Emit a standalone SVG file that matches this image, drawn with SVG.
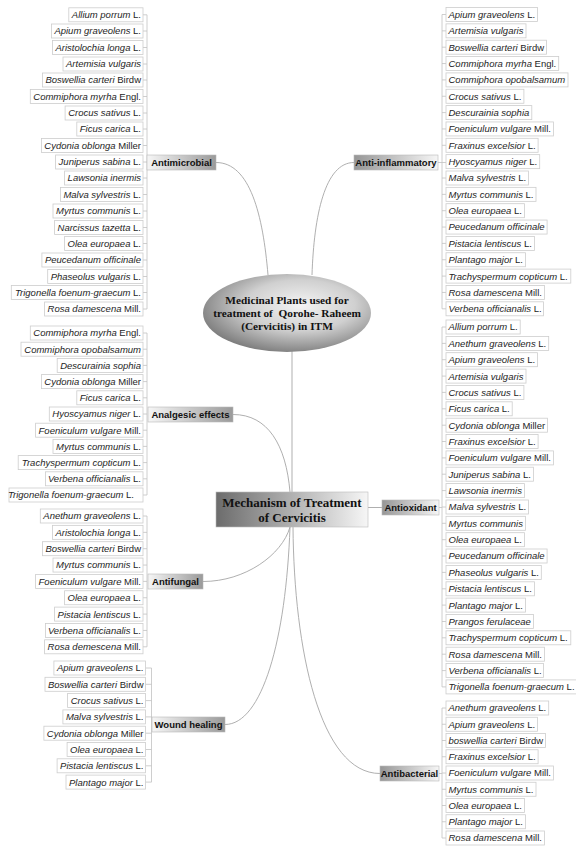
<svg xmlns="http://www.w3.org/2000/svg" width="576" height="847" viewBox="0 0 576 847">
<defs>
<linearGradient id="gL" x1="0" y1="0" x2="1" y2="0"><stop offset="0" stop-color="#f6f6f6"/><stop offset="1" stop-color="#9a9a9a"/></linearGradient>
<linearGradient id="gR" x1="0" y1="0" x2="1" y2="0"><stop offset="0" stop-color="#969696"/><stop offset="1" stop-color="#f6f6f6"/></linearGradient>
<linearGradient id="gC" x1="0" y1="0" x2="1" y2="0"><stop offset="0" stop-color="#6c6c6c"/><stop offset="1" stop-color="#f6f6f6"/></linearGradient>
<radialGradient id="gE" cx="0.58" cy="0.4" r="0.65"><stop offset="0" stop-color="#f4f4f4"/><stop offset="0.5" stop-color="#d0d0d0"/><stop offset="1" stop-color="#777"/></radialGradient>
<style>
.it rect{fill:#fff;stroke:#cdcdcd;stroke-width:0.8}
.it text{font-family:"Liberation Sans",Arial,sans-serif;font-size:9.5px;fill:#1e1e1e}
.L text{text-anchor:end}
.i{font-style:italic}
.node rect{stroke:#b8b8b8;stroke-width:0.6}
.node text{font-family:"Liberation Sans",Arial,sans-serif;font-size:9.5px;font-weight:bold;fill:#111;text-anchor:middle}
.ln{fill:none;stroke:#a6a6a6;stroke-width:0.9}
.br{fill:none;stroke:#c2c2c2;stroke-width:0.8}
.ser{font-family:"Liberation Serif","Times New Roman",serif;font-weight:bold;fill:#111;text-anchor:middle}
</style>
</defs>

<g id="connectors">
<path class="ln" d="M216,162.5 C250,162.5 263,215 268,275"/>
<path class="ln" d="M354,162.5 C325,162.5 314,215 312,275"/>
<path class="ln" d="M292,351 L292,492"/>
<path class="ln" d="M233,414.5 C268,414.5 286,445 290,492"/>
<path class="ln" d="M368,507.5 L382,507.5"/>
<path class="ln" d="M290,527 C282,555 245,581.5 203,581.5"/>
<path class="ln" d="M290,527 C286,640 262,724.5 225,724.5"/>
<path class="ln" d="M293,527 C294,650 320,773.5 380,773.5"/>
<path class="br" d="M147,14.8 V309 M143,14.8 H147 M143,31 H147 M143,47.5 H147 M143,64 H147 M143,80 H147 M143,96.5 H147 M143,113 H147 M143,129 H147 M143,145.5 H147 M143,162 H147 M143,178 H147 M143,194.5 H147 M143,211 H147 M143,227.5 H147 M143,243.5 H147 M143,260 H147 M143,276.5 H147 M143,292.5 H147 M143,309 H147"/>
<path class="br" d="M442,14.5 V308.8 M438,162.5 H446 M442,14.5 H446 M442,30.85 H446 M442,47.2 H446 M442,63.55 H446 M442,79.9 H446 M442,96.25 H446 M442,112.6 H446 M442,128.95 H446 M442,145.3 H446 M442,178 H446 M442,194.35 H446 M442,210.7 H446 M442,227.05 H446 M442,243.4 H446 M442,259.75 H446 M442,276.1 H446 M442,292.45 H446 M442,308.8 H446"/>
<path class="br" d="M147,333 V495 M143,333 H147 M143,349.2 H147 M143,365.4 H147 M143,381.6 H147 M143,397.8 H147 M143,414 H147 M143,430.2 H147 M143,446.4 H147 M143,462.6 H147 M143,478.8 H147 M143,495 H147"/>
<path class="br" d="M147,516 V646.8 M143,516 H147 M143,532.35 H147 M143,548.7 H147 M143,565.05 H147 M143,581.4 H147 M143,597.75 H147 M143,614.1 H147 M143,630.45 H147 M143,646.8 H147"/>
<path class="br" d="M151.5,668 V782.1 M145.5,668 H151.5 M145.5,684.3 H151.5 M145.5,700.6 H151.5 M145.5,716.9 H151.5 M145.5,733.2 H151.5 M145.5,749.5 H151.5 M145.5,765.8 H151.5 M145.5,782.1 H151.5"/>
<path class="br" d="M442,327 V686.9 M439,507.5 H442 M442,327 H446 M442,343.4 H446 M442,359.7 H446 M442,376.1 H446 M442,392.4 H446 M442,408.8 H446 M442,425.2 H446 M442,441.5 H446 M442,457.9 H446 M442,474.2 H446 M442,490.6 H446 M442,507 H446 M442,523.3 H446 M442,539.7 H446 M442,556 H446 M442,572.4 H446 M442,588.8 H446 M442,605.1 H446 M442,621.5 H446 M442,637.8 H446 M442,654.2 H446 M442,670.6 H446 M442,686.9 H446"/>
<path class="br" d="M442,708 V838 M439,773.5 H442 M442,708 H446 M442,724.25 H446 M442,740.5 H446 M442,756.75 H446 M442,773 H446 M442,789.25 H446 M442,805.5 H446 M442,821.75 H446 M442,838 H446"/>
</g>

<g id="root">
<ellipse cx="287" cy="313" rx="84" ry="39" fill="url(#gE)"/>
<text class="ser" font-size="11.3" x="287" y="304">Medicinal Plants used for</text>
<text class="ser" font-size="11.3" x="287" y="317" xml:space="preserve">treatment of  Qorohe- Raheem</text>
<text class="ser" font-size="11.3" x="287" y="330">(Cervicitis) in ITM</text>
</g>

<g id="mechanism">
<rect x="216" y="492" width="152" height="35" fill="url(#gC)" stroke="#bbb" stroke-width="0.6"/>
<text class="ser" font-size="13" x="292" y="507">Mechanism of Treatment</text>
<text class="ser" font-size="13" x="292" y="522">of Cervicitis</text>
</g>

<g id="antimicrobial" class="node"><rect x="147" y="155" width="69" height="15" fill="url(#gL)"/><text x="181.5" y="166">Antimicrobial</text></g>
<g id="anti-inflammatory" class="node"><rect x="354" y="155" width="84" height="15" fill="url(#gR)"/><text x="396" y="166">Anti-inflammatory</text></g>
<g id="analgesic" class="node"><rect x="148" y="407" width="85" height="15" fill="url(#gL)"/><text x="190.5" y="418">Analgesic effects</text></g>
<g id="antioxidant" class="node"><rect x="382" y="500" width="57" height="15" fill="url(#gR)"/><text x="410.5" y="511">Antioxidant</text></g>
<g id="antifungal" class="node"><rect x="148" y="574" width="55" height="15" fill="url(#gL)"/><text x="175.5" y="585">Antifungal</text></g>
<g id="wound-healing" class="node"><rect x="152" y="717" width="73" height="15" fill="url(#gL)"/><text x="188.5" y="728">Wound healing</text></g>
<g id="antibacterial" class="node"><rect x="380" y="766" width="59" height="15" fill="url(#gR)"/><text x="409.5" y="777">Antibacterial</text></g>

<g id="list-antimicrobial" class="it L">
<rect x="68.8" y="7.8" width="74.2" height="14"/><text x="141" y="18.2"><tspan class="i">Allium porrum</tspan> L.</text>
<rect x="51.4" y="24" width="91.6" height="14"/><text x="141" y="34.4"><tspan class="i">Apium graveolens</tspan> L.</text>
<rect x="52.5" y="40.5" width="90.5" height="14"/><text x="141" y="50.9"><tspan class="i">Aristolochia longa</tspan> L.</text>
<rect x="63" y="57" width="80" height="14"/><text x="141" y="67.4"><tspan class="i">Artemisia vulgaris</tspan></text>
<rect x="42.5" y="73" width="100.5" height="14"/><text x="141" y="83.4"><tspan class="i">Boswellia carteri</tspan> Birdw</text>
<rect x="30.3" y="89.5" width="112.7" height="14"/><text x="141" y="99.9"><tspan class="i">Commiphora myrha</tspan> Engl.</text>
<rect x="65.1" y="106" width="77.9" height="14"/><text x="141" y="116.4"><tspan class="i">Crocus sativus</tspan> L.</text>
<rect x="76.8" y="122" width="66.2" height="14"/><text x="141" y="132.4"><tspan class="i">Ficus carica</tspan> L.</text>
<rect x="41.4" y="138.5" width="101.6" height="14"/><text x="141" y="148.9"><tspan class="i">Cydonia oblonga</tspan> Miller</text>
<rect x="55.6" y="155" width="87.4" height="14"/><text x="141" y="165.4"><tspan class="i">Juniperus sabina</tspan> L.</text>
<rect x="64.6" y="171" width="78.4" height="14"/><text x="141" y="181.4"><tspan class="i">Lawsonia inermis</tspan></text>
<rect x="60.4" y="187.5" width="82.6" height="14"/><text x="141" y="197.9"><tspan class="i">Malva sylvestris</tspan> L.</text>
<rect x="53" y="204" width="90" height="14"/><text x="141" y="214.4"><tspan class="i">Myrtus communis</tspan> L.</text>
<rect x="54.6" y="220.5" width="88.4" height="14"/><text x="141" y="230.9"><tspan class="i">Narcissus tazetta</tspan> L.</text>
<rect x="64.6" y="236.5" width="78.4" height="14"/><text x="141" y="246.9"><tspan class="i">Olea europaea</tspan> L.</text>
<rect x="41.9" y="253" width="101.1" height="14"/><text x="141" y="263.4"><tspan class="i">Peucedanum officinale</tspan></text>
<rect x="47.7" y="269.5" width="95.3" height="14"/><text x="141" y="279.9"><tspan class="i">Phaseolus vulgaris</tspan> L.</text>
<rect x="11.3" y="285.5" width="131.7" height="14"/><text x="141" y="295.9"><tspan class="i">Trigonella foenum-graecum</tspan> L.</text>
<rect x="44.6" y="302" width="98.4" height="14"/><text x="141" y="312.4"><tspan class="i">Rosa damescena</tspan> Mill.</text>
</g>

<g id="list-anti-inflammatory" class="it">
<rect x="446" y="7.5" width="91.6" height="14"/><text x="448.5" y="17.9"><tspan class="i">Apium graveolens</tspan> L.</text>
<rect x="446" y="23.85" width="80" height="14"/><text x="448.5" y="34.25"><tspan class="i">Artemisia vulgaris</tspan></text>
<rect x="446" y="40.2" width="100.5" height="14"/><text x="448.5" y="50.6"><tspan class="i">Boswellia carteri</tspan> Birdw</text>
<rect x="446" y="56.55" width="112.7" height="14"/><text x="448.5" y="66.95"><tspan class="i">Commiphora myrha</tspan> Engl.</text>
<rect x="446" y="72.9" width="122" height="14"/><text x="448.5" y="83.3"><tspan class="i">Commiphora opobalsamum</tspan></text>
<rect x="446" y="89.25" width="77.9" height="14"/><text x="448.5" y="99.65"><tspan class="i">Crocus sativus</tspan> L.</text>
<rect x="446" y="105.6" width="85.8" height="14"/><text x="448.5" y="116"><tspan class="i">Descurainia sophia</tspan></text>
<rect x="446" y="121.95" width="107.4" height="14"/><text x="448.5" y="132.35"><tspan class="i">Foeniculum vulgare</tspan> Mill.</text>
<rect x="446" y="138.3" width="92.1" height="14"/><text x="448.5" y="148.7"><tspan class="i">Fraxinus excelsior</tspan> L.</text>
<rect x="446" y="154.65" width="93.7" height="14"/><text x="448.5" y="165.05"><tspan class="i">Hyoscyamus niger</tspan> L.</text>
<rect x="446" y="171" width="82.6" height="14"/><text x="448.5" y="181.4"><tspan class="i">Malva sylvestris</tspan> L.</text>
<rect x="446" y="187.35" width="90" height="14"/><text x="448.5" y="197.75"><tspan class="i">Myrtus communis</tspan> L.</text>
<rect x="446" y="203.7" width="78.4" height="14"/><text x="448.5" y="214.1"><tspan class="i">Olea europaea</tspan> L.</text>
<rect x="446" y="220.05" width="101.1" height="14"/><text x="448.5" y="230.45"><tspan class="i">Peucedanum officinale</tspan></text>
<rect x="446" y="236.4" width="88.4" height="14"/><text x="448.5" y="246.8"><tspan class="i">Pistacia lentiscus</tspan> L.</text>
<rect x="446" y="252.75" width="79.5" height="14"/><text x="448.5" y="263.15"><tspan class="i">Plantago major</tspan> L.</text>
<rect x="446" y="269.1" width="124.8" height="14"/><text x="448.5" y="279.5"><tspan class="i">Trachyspermum copticum</tspan> L.</text>
<rect x="446" y="285.45" width="98.4" height="14"/><text x="448.5" y="295.85"><tspan class="i">Rosa damescena</tspan> Mill.</text>
<rect x="446" y="301.8" width="97.5" height="14"/><text x="448.5" y="312.2"><tspan class="i">Verbena officianalis</tspan> L.</text>
</g>

<g id="list-analgesic" class="it L">
<rect x="30.3" y="326" width="112.7" height="14"/><text x="141" y="336.4"><tspan class="i">Commiphora myrha</tspan> Engl.</text>
<rect x="21" y="342.2" width="122" height="14"/><text x="141" y="352.6"><tspan class="i">Commiphora opobalsamum</tspan></text>
<rect x="57.2" y="358.4" width="85.8" height="14"/><text x="141" y="368.8"><tspan class="i">Descurainia sophia</tspan></text>
<rect x="41.4" y="374.6" width="101.6" height="14"/><text x="141" y="385"><tspan class="i">Cydonia oblonga</tspan> Miller</text>
<rect x="76.8" y="390.8" width="66.2" height="14"/><text x="141" y="401.2"><tspan class="i">Ficus carica</tspan> L.</text>
<rect x="49.3" y="407" width="93.7" height="14"/><text x="141" y="417.4"><tspan class="i">Hyoscyamus niger</tspan> L.</text>
<rect x="35.6" y="423.2" width="107.4" height="14"/><text x="141" y="433.6"><tspan class="i">Foeniculum vulgare</tspan> Mill.</text>
<rect x="53" y="439.4" width="90" height="14"/><text x="141" y="449.8"><tspan class="i">Myrtus communis</tspan> L.</text>
<rect x="18.2" y="455.6" width="124.8" height="14"/><text x="141" y="466"><tspan class="i">Trachyspermum copticum</tspan> L.</text>
<rect x="45.5" y="471.8" width="97.5" height="14"/><text x="141" y="482.2"><tspan class="i">Verbena officianalis</tspan> L.</text>
<rect x="9" y="488" width="134" height="14"/><text x="134" y="498.4"><tspan class="i">Trigonella foenum-graecum</tspan> L.</text>
</g>

<g id="list-antifungal" class="it L">
<rect x="40.3" y="509" width="102.7" height="14"/><text x="141" y="519.4"><tspan class="i">Anethum graveolens</tspan> L.</text>
<rect x="52.5" y="525.35" width="90.5" height="14"/><text x="141" y="535.75"><tspan class="i">Aristolochia longa</tspan> L.</text>
<rect x="42.5" y="541.7" width="100.5" height="14"/><text x="141" y="552.1"><tspan class="i">Boswellia carteri</tspan> Birdw</text>
<rect x="53" y="558.05" width="90" height="14"/><text x="141" y="568.45"><tspan class="i">Myrtus communis</tspan> L.</text>
<rect x="35.6" y="574.4" width="107.4" height="14"/><text x="141" y="584.8"><tspan class="i">Foeniculum vulgare</tspan> Mill.</text>
<rect x="64.6" y="590.75" width="78.4" height="14"/><text x="141" y="601.15"><tspan class="i">Olea europaea</tspan> L.</text>
<rect x="54.6" y="607.1" width="88.4" height="14"/><text x="141" y="617.5"><tspan class="i">Pistacia lentiscus</tspan> L.</text>
<rect x="45.5" y="623.45" width="97.5" height="14"/><text x="141" y="633.85"><tspan class="i">Verbena officianalis</tspan> L.</text>
<rect x="44.6" y="639.8" width="98.4" height="14"/><text x="141" y="650.2"><tspan class="i">Rosa demescena</tspan> Mill.</text>
</g>

<g id="list-wound-healing" class="it L">
<rect x="53.9" y="661" width="91.6" height="14"/><text x="143.5" y="671.4"><tspan class="i">Apium graveolens</tspan> L.</text>
<rect x="45" y="677.3" width="100.5" height="14"/><text x="143.5" y="687.7"><tspan class="i">Boswellia carteri</tspan> Birdw</text>
<rect x="67.6" y="693.6" width="77.9" height="14"/><text x="143.5" y="704"><tspan class="i">Crocus sativus</tspan> L.</text>
<rect x="62.9" y="709.9" width="82.6" height="14"/><text x="143.5" y="720.3"><tspan class="i">Malva sylvestris</tspan> L.</text>
<rect x="43.9" y="726.2" width="101.6" height="14"/><text x="143.5" y="736.6"><tspan class="i">Cydonia oblonga</tspan> Miller</text>
<rect x="67.1" y="742.5" width="78.4" height="14"/><text x="143.5" y="752.9"><tspan class="i">Olea europaea</tspan> L.</text>
<rect x="57.1" y="758.8" width="88.4" height="14"/><text x="143.5" y="769.2"><tspan class="i">Pistacia lentiscus</tspan> L.</text>
<rect x="66" y="775.1" width="79.5" height="14"/><text x="143.5" y="785.5"><tspan class="i">Plantago major</tspan> L.</text>
</g>

<g id="list-antioxidant" class="it">
<rect x="446" y="320" width="74.2" height="14"/><text x="448.5" y="330.4"><tspan class="i">Allium porrum</tspan> L.</text>
<rect x="446" y="336.4" width="102.7" height="14"/><text x="448.5" y="346.8"><tspan class="i">Anethum graveolens</tspan> L.</text>
<rect x="446" y="352.7" width="91.6" height="14"/><text x="448.5" y="363.1"><tspan class="i">Apium graveolens</tspan> L.</text>
<rect x="446" y="369.1" width="80" height="14"/><text x="448.5" y="379.5"><tspan class="i">Artemisia vulgaris</tspan></text>
<rect x="446" y="385.4" width="77.9" height="14"/><text x="448.5" y="395.8"><tspan class="i">Crocus sativus</tspan> L.</text>
<rect x="446" y="401.8" width="66.2" height="14"/><text x="448.5" y="412.2"><tspan class="i">Ficus carica</tspan> L.</text>
<rect x="446" y="418.2" width="101.6" height="14"/><text x="448.5" y="428.6"><tspan class="i">Cydonia oblonga</tspan> Miller</text>
<rect x="446" y="434.5" width="92.1" height="14"/><text x="448.5" y="444.9"><tspan class="i">Fraxinus excelsior</tspan> L.</text>
<rect x="446" y="450.9" width="107.4" height="14"/><text x="448.5" y="461.3"><tspan class="i">Foeniculum vulgare</tspan> Mill.</text>
<rect x="446" y="467.2" width="87.4" height="14"/><text x="448.5" y="477.6"><tspan class="i">Juniperus sabina</tspan> L.</text>
<rect x="446" y="483.6" width="78.4" height="14"/><text x="448.5" y="494"><tspan class="i">Lawsonia inermis</tspan></text>
<rect x="446" y="500" width="82.6" height="14"/><text x="448.5" y="510.4"><tspan class="i">Malva sylvestris</tspan> L.</text>
<rect x="446" y="516.3" width="79.4" height="14"/><text x="448.5" y="526.7"><tspan class="i">Myrtus communis</tspan></text>
<rect x="446" y="532.7" width="78.4" height="14"/><text x="448.5" y="543.1"><tspan class="i">Olea europaea</tspan> L.</text>
<rect x="446" y="549" width="101.1" height="14"/><text x="448.5" y="559.4"><tspan class="i">Peucedanum officinale</tspan></text>
<rect x="446" y="565.4" width="95.3" height="14"/><text x="448.5" y="575.8"><tspan class="i">Phaseolus vulgaris</tspan> L.</text>
<rect x="446" y="581.8" width="88.4" height="14"/><text x="448.5" y="592.2"><tspan class="i">Pistacia lentiscus</tspan> L.</text>
<rect x="446" y="598.1" width="79.5" height="14"/><text x="448.5" y="608.5"><tspan class="i">Plantago major</tspan> L.</text>
<rect x="446" y="614.5" width="87.4" height="14"/><text x="448.5" y="624.9"><tspan class="i">Prangos ferulaceae</tspan></text>
<rect x="446" y="630.8" width="124.8" height="14"/><text x="448.5" y="641.2"><tspan class="i">Trachyspermum copticum</tspan> L.</text>
<rect x="446" y="647.2" width="98.4" height="14"/><text x="448.5" y="657.6"><tspan class="i">Rosa damescena</tspan> Mill.</text>
<rect x="446" y="663.6" width="97.5" height="14"/><text x="448.5" y="674"><tspan class="i">Verbena officianalis</tspan> L.</text>
<rect x="446" y="679.9" width="131.7" height="14"/><text x="448.5" y="690.3"><tspan class="i">Trigonella foenum-graecum</tspan> L.</text>
</g>

<g id="list-antibacterial" class="it">
<rect x="446" y="701" width="102.7" height="14"/><text x="448.5" y="711.4"><tspan class="i">Anethum graveolens</tspan> L.</text>
<rect x="446" y="717.25" width="91.6" height="14"/><text x="448.5" y="727.65"><tspan class="i">Apium graveolens</tspan> L.</text>
<rect x="446" y="733.5" width="99.5" height="14"/><text x="448.5" y="743.9"><tspan class="i">boswellia carteri</tspan> Birdw</text>
<rect x="446" y="749.75" width="92.1" height="14"/><text x="448.5" y="760.15"><tspan class="i">Fraxinus excelsior</tspan> L.</text>
<rect x="446" y="766" width="107.4" height="14"/><text x="448.5" y="776.4"><tspan class="i">Foeniculum vulgare</tspan> Mill.</text>
<rect x="446" y="782.25" width="90" height="14"/><text x="448.5" y="792.65"><tspan class="i">Myrtus communis</tspan> L.</text>
<rect x="446" y="798.5" width="78.4" height="14"/><text x="448.5" y="808.9"><tspan class="i">Olea europaea</tspan> L.</text>
<rect x="446" y="814.75" width="79.5" height="14"/><text x="448.5" y="825.15"><tspan class="i">Plantago major</tspan> L.</text>
<rect x="446" y="831" width="98.4" height="14"/><text x="448.5" y="841.4"><tspan class="i">Rosa damescena</tspan> Mill.</text>
</g>
</svg>
